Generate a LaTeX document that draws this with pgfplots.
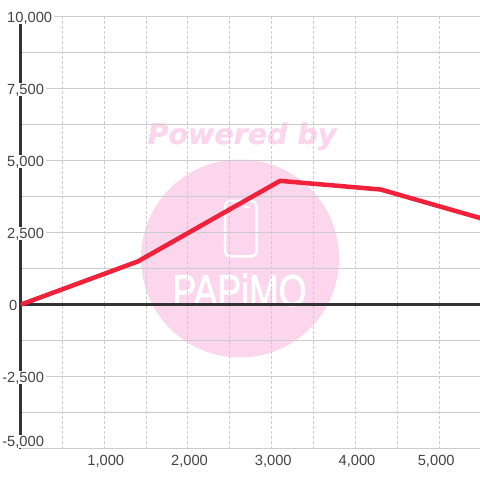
\documentclass[border=0pt]{standalone}
\usepackage{fontspec}
\setmainfont{Liberation Sans}
\newfontfamily\wmfont[FakeBold=0.6]{DejaVu Sans Bold Oblique}
\newfontfamily\logofont[FakeBold=2]{Liberation Sans}
\usepackage{pgfplots}
\pgfplotsset{compat=1.18}
\definecolor{wmpink}{HTML}{FBD6EC}
\definecolor{gridgray}{HTML}{CCCCCC}
\definecolor{axisdark}{HTML}{333333}
\definecolor{labelgray}{HTML}{444444}
\definecolor{linered}{HTML}{F0213A}
\newcommand\negfive{\llap{-}5,000}
\newcommand\negtwo{\llap{-}2,500}

\begin{document}
\begin{tikzpicture}[x=1pt,y=1pt]
\useasboundingbox (0,0) rectangle (480,480);
\fill[white] (0,0) rectangle (480,480);
% watermark sits under the grid
\fill[wmpink] (240,221.5) circle (99);
\node[text=wmpink,font={\wmfont\fontsize{28.5}{30}\selectfont},anchor=base,inner sep=0pt] at (242,336) {Powered by};
\draw[white,line width=2.5pt,rounded corners=5pt] (225,279) rectangle (256.5,223.5);
\draw[white,line width=2pt] (243,272.5) -- (250,272.5);
\node[text=white,font={\logofont\fontsize{44.5}{46}\selectfont},anchor=base,inner sep=0pt,xscale=0.8] at (239.5,174) {PAPiMO};

\begin{axis}[
    at={(20.5pt,31.3pt)},
    anchor=south west,
    scale only axis,
    width=459.5pt,
    height=432pt,
    xmin=0, xmax=5487,
    ymin=-5000, ymax=10000,
    scaled y ticks=false,
    scaled x ticks=false,
    axis x line*=bottom,
    axis y line*=left,
    x axis line style={draw=none},
    y axis line style={draw=axisdark,line width=3pt},
    xtick={1000,2000,3000,4000,5000},
    xticklabels={{1,000},{2,000},{3,000},{4,000},{\hspace*{-9pt}5,000}},
    minor xtick={500,1500,2500,3500,4500},
    ytick={-2500,0,2500,5000,7500,10000},
    yticklabels={\negtwo,\hspace*{2pt}0,{2,500},{5,000},{7,500},{10,000}},
    minor ytick={-3750,-1250,1250,3750,6250,8750},
    extra y ticks={-5000},
    extra y tick labels={\negfive},
    extra y tick style={grid=major,yticklabel style={yshift=7.5pt}},
    tick style={draw=none},
    xmajorgrids, xminorgrids,
    ymajorgrids, yminorgrids,
    x grid style={draw=gridgray,line width=1pt,dash pattern=on 2.5pt off 2.5pt},
    y grid style={draw=gridgray,line width=1pt},
    minor x grid style={draw=gridgray,line width=1pt,dash pattern=on 2.5pt off 2.5pt},
    minor y grid style={draw=gridgray,line width=1pt},
    tick label style={text=labelgray,font=\fontsize{14.7}{16}\selectfont},
    yticklabel style={anchor=west,xshift=-15.5pt,yshift=-0.5pt,fill=white,inner xsep=2pt,inner ysep=0.5pt,text height=11pt,text depth=1pt},
    xticklabel style={yshift=-3.5pt,xshift=1.5pt},
]
\addplot[axisdark,line width=3pt] coordinates {(0,0) (5487,0)};
\addplot[linered,line width=4.5pt,line join=round] coordinates {
    (0,0) (1400,1500) (3100,4300) (4300,4000) (5500,3000)};
\end{axis}
\end{tikzpicture}
\end{document}
